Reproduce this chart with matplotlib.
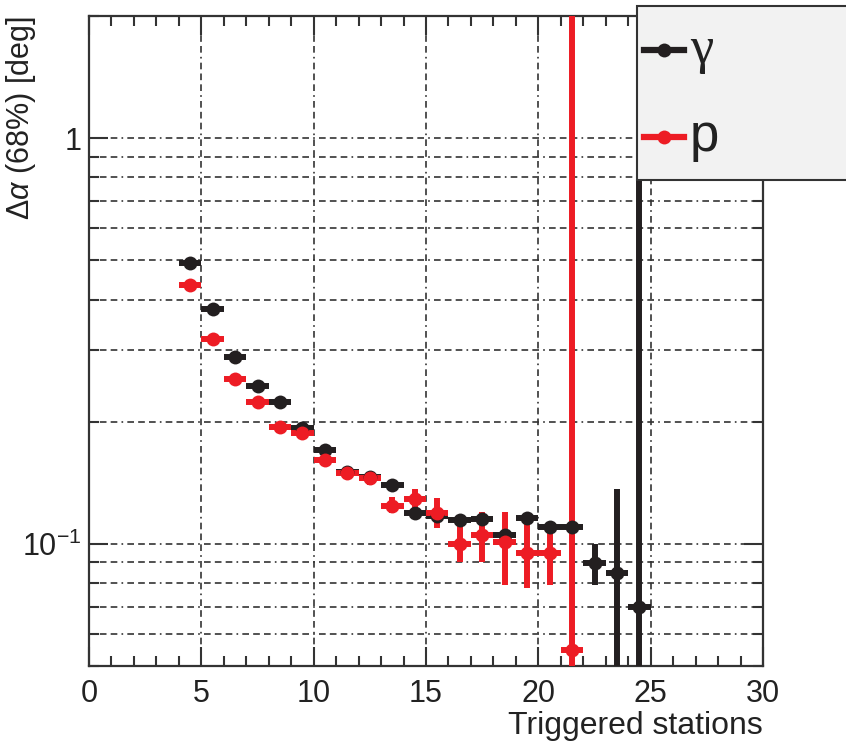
import matplotlib
matplotlib.use('Agg')
import matplotlib.pyplot as plt
import numpy as np
from matplotlib.ticker import LogLocator, MultipleLocator, NullFormatter, FuncFormatter
from matplotlib.patches import Rectangle
from matplotlib.lines import Line2D

plt.rcParams['font.family'] = ['Liberation Sans', 'DejaVu Sans']
plt.rcParams['mathtext.fontset'] = 'custom'
plt.rcParams['mathtext.rm'] = 'Liberation Sans'
plt.rcParams['mathtext.it'] = 'Liberation Sans:italic'

# ---- data ----
gamma_x = [4.5, 5.5, 6.5, 7.5, 8.5, 9.5, 10.5, 11.5, 12.5, 13.5, 14.5, 15.5,
           16.5, 17.5, 18.5, 19.5, 20.5, 21.5, 22.5, 23.5, 24.5]
gamma_y = [0.492, 0.379, 0.2885, 0.2447, 0.2236, 0.193, 0.1703, 0.150, 0.146,
           0.1397, 0.1192, 0.117, 0.1146, 0.1149, 0.1051, 0.1159, 0.110, 0.110,
           0.0898, 0.0848, 0.070]
gamma_lo = [0.484, 0.373, 0.284, 0.241, 0.220, 0.190, 0.167, 0.147, 0.143,
            0.137, 0.117, 0.114, 0.112, 0.112, 0.102, 0.113, 0.107, 0.107,
            0.0793, 0.001, 0.001]
gamma_hi = [0.500, 0.385, 0.293, 0.248, 0.227, 0.196, 0.1735, 0.153, 0.149,
            0.1425, 0.1215, 0.120, 0.117, 0.1175, 0.108, 0.1185, 0.113, 0.113,
            0.100, 0.1366, 10.0]

proton_x = [4.5, 5.5, 6.5, 7.5, 8.5, 9.5, 10.5, 11.5, 12.5, 13.5, 14.5, 15.5,
            16.5, 17.5, 18.5, 19.5, 20.5, 21.5]
proton_y = [0.434, 0.320, 0.2547, 0.2236, 0.1941, 0.1876, 0.1609, 0.1495, 0.1453,
            0.1240, 0.1291, 0.1192, 0.0999, 0.1051, 0.1011, 0.0950, 0.0950, 0.0548]
proton_lo = [0.427, 0.314, 0.250, 0.219, 0.190, 0.184, 0.157, 0.146, 0.140,
             0.1192, 0.1213, 0.1095, 0.0903, 0.0903, 0.0793, 0.0779, 0.0793, 0.001]
proton_hi = [0.441, 0.326, 0.2595, 0.228, 0.198, 0.191, 0.164, 0.153, 0.150,
             0.1305, 0.1366, 0.1298, 0.1126, 0.1198, 0.1198, 0.1126, 0.1095, 10.0]

xlabel = 'Triggered stations'
ylabel = r'Δ$\alpha$ (68%) [deg]'
legend_labels = ['γ', 'p']
BLACK = '#231f20'
RED = '#ed1c24'

W, H = 846, 741
fig = plt.figure(figsize=(W / 100, H / 100), dpi=100)
ax = fig.add_axes([89 / W, 1 - 666 / H, (763 - 89) / W, (666 - 16) / H])

ax.set_yscale('log')
ax.set_xlim(0, 30)
ax.set_ylim(0.05, 2.0)


def draw(xs, ys, lo, hi, color):
    ys = np.array(ys)
    yerr = [ys - np.array(lo), np.array(hi) - ys]
    ax.errorbar(xs, ys, xerr=0.5, yerr=yerr, fmt='o', color=color, ms=10,
                elinewidth=4.3, capsize=0, mew=0, zorder=3)


draw(gamma_x, gamma_y, gamma_lo, gamma_hi, BLACK)
draw(proton_x, proton_y, proton_lo, proton_hi, RED)

# ticks
ax.xaxis.set_major_locator(MultipleLocator(5))
ax.xaxis.set_minor_locator(MultipleLocator(1))
ax.yaxis.set_major_locator(LogLocator(base=10, subs=(1.0,)))
ax.yaxis.set_minor_locator(LogLocator(base=10, subs=np.arange(2, 10)))
ax.yaxis.set_minor_formatter(NullFormatter())
ax.yaxis.set_major_formatter(FuncFormatter(
    lambda v, p: '1' if abs(v - 1) < 1e-9 else (r'$10^{-1}$' if abs(v - 0.1) < 1e-9 else '')))

ax.tick_params(which='both', direction='in', top=True, right=True,
               color='#333333', width=1.5, labelsize=22, labelcolor='#222222')
ax.tick_params(which='major', length=14)
ax.tick_params(which='minor', length=7)
ax.tick_params(axis='x', which='major', pad=9)
ax.tick_params(axis='y', which='major', pad=5)

dash = (0, (4, 2.5, 4, 2.5, 4, 2.5, 1, 2.5))
ax.grid(True, axis='x', which='major', color='#333333', lw=1.2, linestyle=dash)
ax.grid(True, axis='y', which='both', color='#333333', lw=1.2, linestyle=dash)
ax.set_axisbelow(True)

for s in ax.spines.values():
    s.set_color('#333333')
    s.set_linewidth(1.6)

ax.set_xlabel(xlabel, loc='right', fontsize=23, color='#222222', labelpad=2)
ax.set_ylabel(ylabel, loc='top', fontsize=22, color='#222222')
ax.yaxis.set_label_coords(-51 / 674, 1.0)

# legend box (partly outside the figure, as in the reference)
rect = Rectangle((637 / W, 1 - 180 / H), 0.35, (180 - 6) / H, transform=fig.transFigure,
                 facecolor='#f2f2f2', edgecolor='#333333', lw=1.5, zorder=10)
fig.add_artist(rect)
for (yy, col, lab, fam) in [(50, BLACK, legend_labels[0], ['Liberation Serif', 'DejaVu Serif']),
                           (137, RED, legend_labels[1], ['Liberation Sans', 'DejaVu Sans'])]:
    yf = 1 - yy / H
    fig.add_artist(Line2D([644 / W, 684 / W], [yf, yf], transform=fig.transFigure,
                          color=col, lw=4.5, zorder=11))
    fig.add_artist(Line2D([664 / W], [yf], transform=fig.transFigure, marker='o',
                          ms=10, color=col, mew=0, zorder=12))
    fig.text(690 / W, yf, lab, fontsize=38, family=fam, color='#222222',
             va='center', ha='left', zorder=13)

fig.savefig('out.png', dpi=100)
